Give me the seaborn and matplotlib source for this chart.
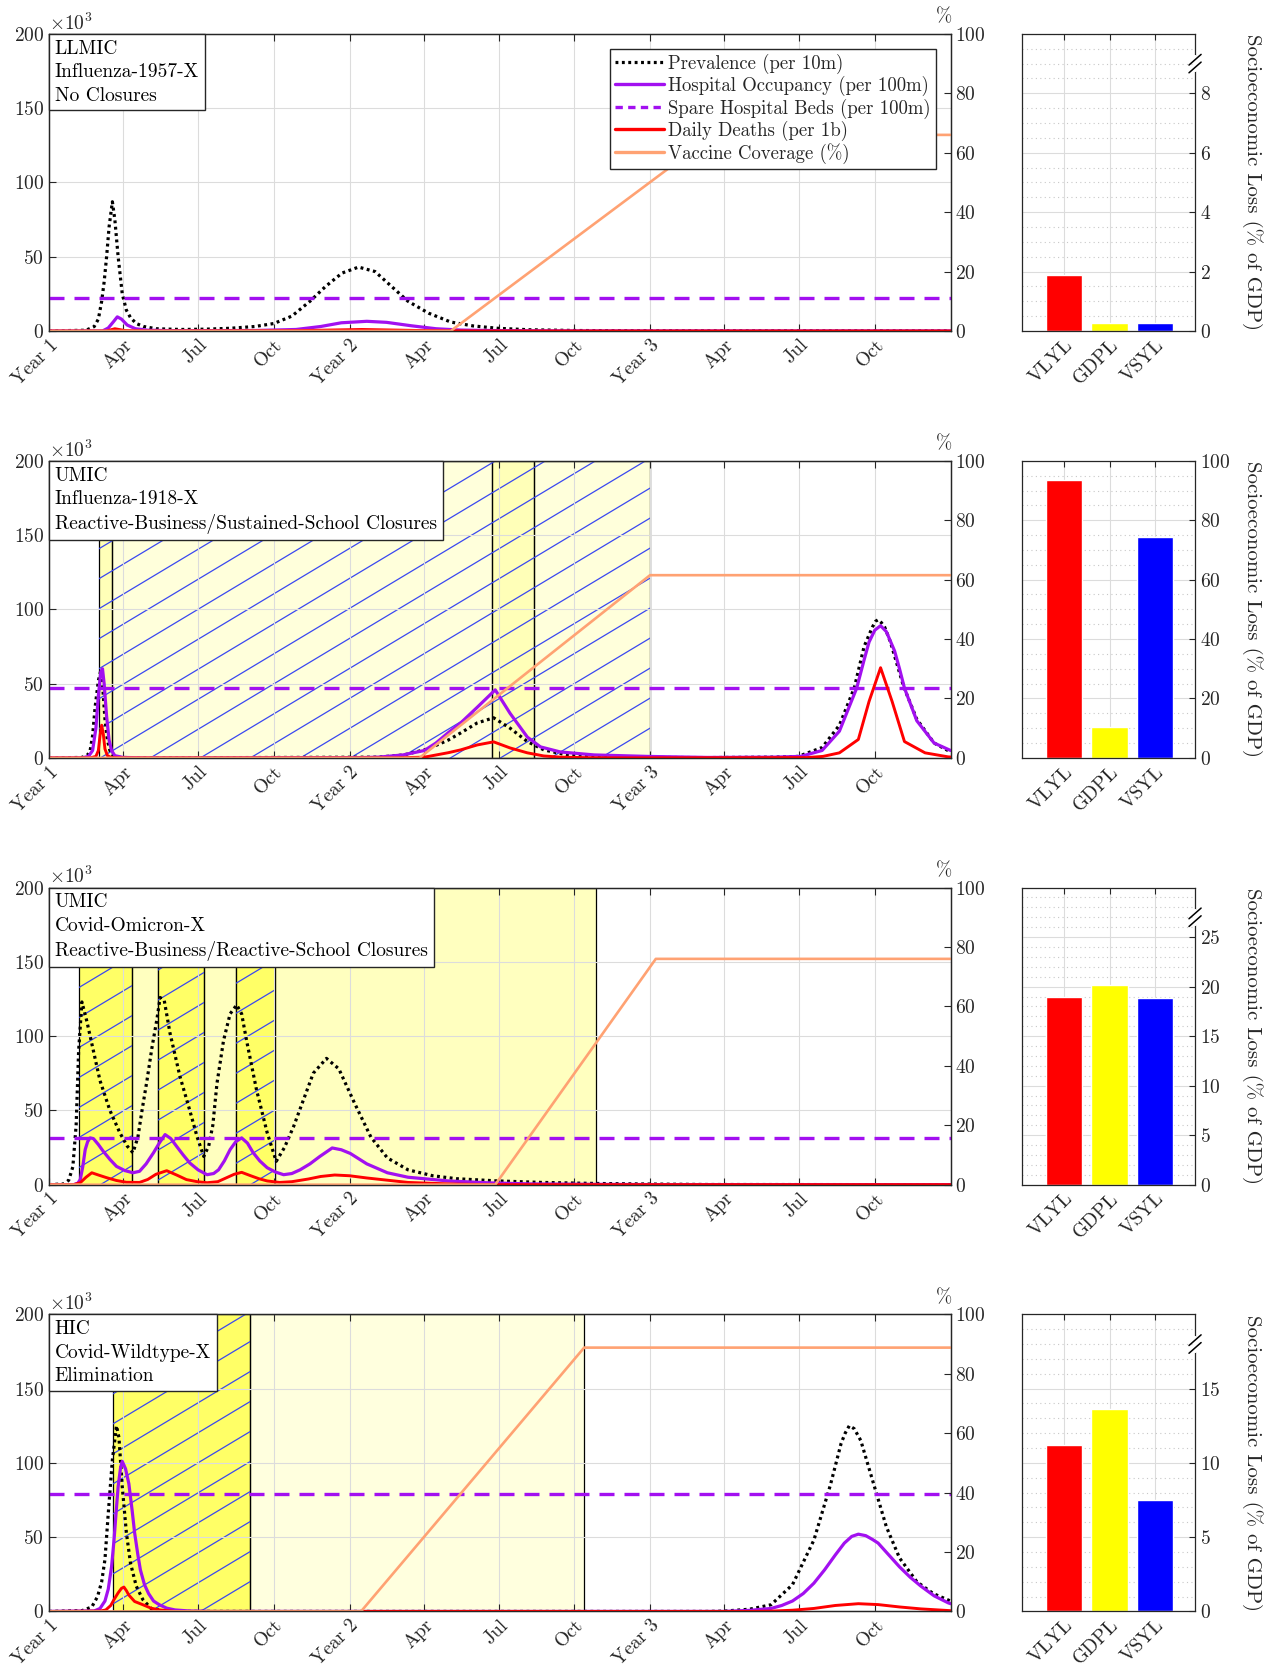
import numpy as np
import matplotlib
matplotlib.use("Agg")
import matplotlib.pyplot as plt
import seaborn as sns
from matplotlib.collections import LineCollection
from matplotlib.offsetbox import AnchoredText
from matplotlib.ticker import ScalarFormatter, MultipleLocator
from matplotlib.lines import Line2D

sns.set_theme(style="ticks")
plt.rcParams["font.family"] = ["cmr10", "DejaVu Serif"]
plt.rcParams["mathtext.fontset"] = "cm"
plt.rcParams["axes.unicode_minus"] = False
plt.rcParams["axes.formatter.use_mathtext"] = True

# ---- time axis (days from start of Year 1) ----
TICK_DAYS = [0, 90, 181, 273, 365, 455, 546, 638, 730, 820, 911, 1003]
TICK_LABELS = ["Year 1", "Apr", "Jul", "Oct", "Year 2", "Apr", "Jul", "Oct",
               "Year 3", "Apr", "Jul", "Oct"]
END_DAY = 1095

LOSS_CATS = ["VLYL", "GDPL", "VSYL"]
LOSS_COLORS = ["#FF0000", "#FFFF00", "#0000FF"]

# ---- panel 1: LLMIC / Influenza-1957-X / No Closures (values x10^3) ----
p1_text = ["LLMIC", "Influenza-1957-X", "No Closures"]
p1_prev_day = [0, 45, 55, 60, 64, 67, 70, 73, 77, 80, 84, 89, 94, 99, 106, 115, 130, 160, 190, 220,
               250, 273, 295, 317, 336, 356, 376, 396, 416, 436, 461, 488, 515, 545, 584, 640, 720, 1095]
p1_prev = [0, 0.5, 3, 8, 20, 33, 50, 70, 87, 75, 50, 25, 14, 9, 5, 3, 1.5, 1, 1.2, 1.8,
           3, 5, 10, 20, 30, 39, 43, 40, 30, 20, 12, 6, 3.4, 1.8, 0.8, 0.3, 0.1, 0]
p1_hosp_day = [0, 65, 72, 78, 83, 88, 95, 105, 120, 150, 250, 300, 330, 355, 386, 410, 440, 470, 500,
               550, 650, 1095]
p1_hosp = [0, 0, 2, 6, 9.5, 8, 4, 1.5, 0.5, 0.2, 0.3, 1, 3, 5.5, 6.5, 5.8, 3.5, 1.5, 0.6, 0.2, 0, 0]
p1_death_day = [0, 70, 80, 92, 120, 300, 380, 450, 520, 1095]
p1_death = [0, 0, 1.5, 0.3, 0, 0.2, 1, 0.3, 0, 0]
p1_vax_day = [0, 488, 807, 1095]
p1_vax = [0, 0, 66, 66]
p1_beds = 22.5
p1_closures = []
p1_loss = [1.9, 0.26, 0.26]

# ---- panel 2: UMIC / Influenza-1918-X ----
p2_text = ["UMIC", "Influenza-1918-X", "Reactive-Business/Sustained-School Closures"]
p2_prev_day = [0, 40, 47, 50, 53, 56, 60, 63, 65, 68, 71, 74, 78, 85, 120, 400, 431, 460, 485, 500,
               520, 540, 560, 581, 601, 629, 660, 720, 800, 880, 910, 939, 960, 978, 990, 1000, 1004,
               1007, 1011, 1015, 1022, 1038, 1054, 1075, 1095]
p2_prev = [0, 0.3, 2, 5, 15, 34, 52, 59, 50, 26, 12, 5, 1.5, 0.3, 0, 0.5, 2, 6, 12, 16.8,
           23.5, 27, 20, 11, 5.4, 2, 0.8, 0.3, 0.2, 0.5, 1, 7, 22, 47, 75, 88, 92,
           93, 91, 88, 78, 48, 26, 10, 4]
p2_hosp_day = [0, 40, 48, 53, 57, 60, 63, 65, 67, 70, 73, 76, 80, 90, 120, 380, 400, 430, 456, 470,
               485, 500, 520, 542, 560, 581, 597, 621, 662, 727, 800, 880, 913, 939, 960, 981, 990,
               996, 1003, 1010, 1017, 1027, 1033, 1039, 1054, 1075, 1095]
p2_hosp = [0, 0, 1, 5, 20, 42, 58, 60, 50, 28, 12, 5, 1.5, 0.3, 0, 0.2, 0.5, 2, 5, 10,
           17, 23.5, 34, 45.8, 30, 14, 7.4, 4, 2, 1, 0.3, 0.5, 1, 5, 18, 47, 66,
           78, 86, 89, 85, 72, 60, 47, 25, 10, 5]
p2_death_day = [0, 50, 57, 60, 62, 64, 66, 68, 71, 76, 90, 420, 456, 485, 500, 520, 540, 560, 581, 601,
                621, 660, 700, 920, 940, 960, 983, 996, 1010, 1024, 1039, 1064, 1092, 1095]
p2_death = [0, 0, 1, 5, 15, 22, 16, 6, 1.5, 0.2, 0, 0, 0.5, 3.5, 5.4, 8.7, 10.8, 6.7, 3.4, 1.3,
            0.5, 0.1, 0, 0.2, 1, 3.4, 12.4, 38, 60.7, 38, 11, 3.4, 0.7, 0.6]
p2_vax_day = [0, 450, 730, 1095]
p2_vax = [0, 0, 61.5, 61.5]
p2_beds = 47.2
# (start day, end day, yellow intensity, school closure hatch)
p2_closures = [(61, 77, 0.28, True), (77, 538, 0.14, True), (538, 589, 0.28, True), (589, 730, 0.14, True)]
p2_loss = [93.5, 10.4, 74.4]

# ---- panel 3: UMIC / Covid-Omicron-X ----
p3_text = ["UMIC", "Covid-Omicron-X", "Reactive-Business/Reactive-School Closures"]
p3_prev_day = [0, 18, 24, 29, 33, 36, 40, 46, 52, 62, 74, 86, 95, 102, 108, 113, 119, 125, 131, 135,
               140, 147, 159, 171, 180, 188, 194, 199, 204, 212, 220, 228, 234, 240, 252, 265, 276, 286,
               297, 309, 321, 337, 352, 371, 391, 411, 436, 466, 495, 545, 599, 664, 730, 800, 1095]
p3_prev = [0, 0.5, 3, 12, 40, 90, 123, 110, 95, 70, 50, 35, 26, 21.5, 32, 50, 70, 92, 111, 126,
           124, 102, 73, 50, 32, 19, 26, 40, 68, 97, 115, 121, 115, 97, 64, 35, 15.7, 25,
           39, 57, 75, 85, 78, 55, 32, 18, 10, 6, 4, 2.5, 1.5, 0.8, 0.4, 0.1, 0]
p3_hosp_day = [0, 30, 35, 38, 41, 44, 47, 50, 54, 60, 66, 74, 82, 92, 102, 110, 118, 127, 134, 141,
               148, 155, 163, 171, 181, 192, 200, 206, 213, 220, 227, 234, 241, 248, 256, 265, 275, 285,
               295, 305, 317, 329, 344, 355, 366, 386, 411, 436, 485, 535, 584, 664, 750, 1095]
p3_hosp = [0, 0, 1, 3.4, 12, 23.6, 29, 31.5, 31, 27, 22.4, 17, 12.3, 9.5, 8, 9, 14, 21.5, 28, 33.7,
           31, 25.8, 20, 14.6, 10, 6.7, 7.5, 10, 16, 23.6, 29, 31.5, 28, 21.5, 16, 11.4, 8.5, 6.7,
           7.5, 10, 14, 19, 24.7, 23.5, 21, 14, 8, 5, 2.5, 1.2, 0.5, 0.2, 0, 0]
p3_death_day = [0, 30, 38, 45, 52, 60, 70, 82, 94, 110, 120, 130, 143, 155, 167, 180, 192, 205, 215, 225,
                234, 245, 255, 265, 280, 295, 315, 330, 347, 365, 386, 411, 436, 485, 535, 1095]
p3_death = [0, 0, 1.3, 5, 8, 6.5, 4.7, 2.8, 1.6, 1.5, 3.5, 7, 9.4, 6.5, 3.4, 2, 1.3, 2, 4.5, 7,
            8.3, 6, 4, 2.5, 1.5, 2, 3.8, 5.5, 6.5, 6, 4.5, 3, 1.5, 0.5, 0, 0]
p3_vax_day = [0, 542, 737, 1095]
p3_vax = [0, 0, 76, 76]
p3_beds = 31.2
p3_closures = [(37, 101, 0.6, True), (101, 133, 0.25, False), (133, 188, 0.6, True),
               (188, 227, 0.25, False), (227, 275, 0.6, True), (275, 664, 0.25, False)]
p3_loss = [18.9, 20.2, 18.85]

# ---- panel 4: HIC / Covid-Wildtype-X / Elimination ----
p4_text = ["HIC", "Covid-Wildtype-X", "Elimination"]
p4_prev_day = [0, 40, 52, 59, 64, 68, 72, 77, 82, 85, 89, 94, 99, 106, 114, 124, 139, 160, 800, 820,
               851, 877, 903, 929, 949, 962, 967, 972, 978, 986, 994, 1002, 1017, 1033, 1054, 1074, 1095]
p4_prev = [0, 0.5, 3, 10, 20, 35, 66, 102, 125, 117, 84, 53, 32.5, 17, 8, 2, 0.5, 0, 0, 0.2,
           1.5, 4.5, 18, 48, 85, 113, 120, 125, 123, 115, 100, 85, 57, 36, 20, 12, 7]
p4_hosp_day = [0, 55, 62, 68, 72, 76, 79, 82, 84, 87, 89, 93, 97, 101, 104, 108, 111, 116, 121, 127,
               134, 143, 153, 170, 200, 820, 851, 877, 890, 903, 916, 929, 942, 955, 966, 975, 983,
               992, 1000, 1007, 1020, 1033, 1046, 1059, 1075, 1092, 1095]
p4_hosp = [0, 0.3, 2, 7, 15, 30, 48, 70, 84, 97, 101, 96, 86, 68, 53, 38, 28, 18, 12, 7,
           4.5, 2.2, 1, 0.3, 0, 0, 0.7, 2, 4, 7, 12, 19, 28, 38, 46, 50.5, 52,
           51, 48.5, 46, 38, 30, 23, 17, 10.5, 5.8, 5.2]
p4_death_day = [0, 62, 69, 75, 79, 84, 88, 91, 94, 97, 104, 114, 124, 134, 153, 850, 877, 903, 929, 955,
                983, 1007, 1033, 1059, 1095]
p4_death = [0, 0.2, 1, 4, 8, 12.5, 15.5, 16.4, 14, 11, 6.7, 4.5, 2.2, 1, 0, 0, 0.2, 0.8, 2, 4,
            5.2, 4.6, 3, 1.7, 0.5]
p4_vax_day = [0, 379, 650, 1095]
p4_vax = [0, 0, 88.8, 88.8]
p4_beds = 78.9
p4_closures = [(78, 244, 0.6, True), (244, 650, 0.13, False)]
p4_loss = [11.2, 13.6, 7.5]

# bar-axis settings per panel: (ymax, last labelled tick, major step, minor step, axis break)
bar_axes = [(10, 8, 2, 0.5, True), (100, 100, 20, 5, False), (30, 25, 5, 1, True), (20, 15, 5, 1, True)]

panels = [
    (p1_text, p1_prev_day, p1_prev, p1_hosp_day, p1_hosp, p1_death_day, p1_death,
     p1_vax_day, p1_vax, p1_beds, p1_closures, p1_loss),
    (p2_text, p2_prev_day, p2_prev, p2_hosp_day, p2_hosp, p2_death_day, p2_death,
     p2_vax_day, p2_vax, p2_beds, p2_closures, p2_loss),
    (p3_text, p3_prev_day, p3_prev, p3_hosp_day, p3_hosp, p3_death_day, p3_death,
     p3_vax_day, p3_vax, p3_beds, p3_closures, p3_loss),
    (p4_text, p4_prev_day, p4_prev, p4_hosp_day, p4_hosp, p4_death_day, p4_death,
     p4_vax_day, p4_vax, p4_beds, p4_closures, p4_loss),
]

PURPLE = "#A210F0"
ORANGE = "#FFA273"
DOTTED = (0, (0.9, 1.1))
GRID = "#dcdcdc"
EDGE = "#262626"
FS = 14

fig = plt.figure(figsize=(12.72, 16.69), dpi=100)
row_bottoms = [0.8017, 0.5459, 0.2902, 0.0345]
row_h = 0.178
ts_box = [0.0385, 0.7088]
bar_box = [0.8034, 0.1361]

# hatch pattern for school closures (lines in axes fraction)
slope = 0.6 * (ts_box[1] * 1272) / (row_h * 1669)
hatch_segs = [[(0, c), (1, c + slope)] for c in np.arange(-slope, 1.0, 0.101)]

for i, (text, pd_, pv, hd, hv, dd, dv, vd, vv, beds, closures, loss) in enumerate(panels):
    ax = fig.add_axes([ts_box[0], row_bottoms[i], ts_box[1], row_h])
    ax2 = ax.twinx()
    axb = fig.add_axes([bar_box[0], row_bottoms[i], bar_box[1], row_h])

    # closures
    for start, end, level, hatched in closures:
        span = ax.axvspan(start, end, facecolor=(1, 1, 0, level), edgecolor="black",
                          lw=0.9, zorder=0.2)
        if hatched:
            lc = LineCollection(hatch_segs, colors="#3a48f0", linewidths=0.9,
                                transform=ax.transAxes, zorder=0.3)
            ax.add_collection(lc, autolim=False)
            lc.set_clip_path(span)

    sns.lineplot(x=pd_, y=np.array(pv) * 1e3, ax=ax, color="black", lw=2.3,
                 linestyle=DOTTED, zorder=3)
    sns.lineplot(x=hd, y=np.array(hv) * 1e3, ax=ax, color=PURPLE, lw=2.3, zorder=3)
    ax.axhline(beds * 1e3, color=PURPLE, lw=2.4, dashes=(4.5, 3), zorder=3)
    sns.lineplot(x=dd, y=np.array(dv) * 1e3, ax=ax, color="#FF0000", lw=2.1, zorder=3)
    sns.lineplot(x=vd, y=vv, ax=ax2, color=ORANGE, lw=1.9)

    ax.set_xlim(0, END_DAY)
    ax.set_ylim(0, 200e3)
    ax.set_yticks(np.arange(0, 200001, 50000))
    fmt = ScalarFormatter(useMathText=True)
    fmt.set_powerlimits((3, 3))
    ax.yaxis.set_major_formatter(fmt)
    ax.yaxis.get_offset_text().set_fontsize(FS)
    ax.set_xticks(TICK_DAYS)
    ax.set_xticklabels(TICK_LABELS, rotation=45, ha="right", rotation_mode="anchor")
    ax.set_axisbelow(True)
    ax.grid(True, color=GRID, lw=0.8)
    ax.tick_params(direction="in", length=5, width=0.8, top=True, right=False,
                   labelsize=FS, colors=EDGE)
    ax.set_xlabel("")
    ax.set_ylabel("")

    ax2.set_ylim(0, 100)
    ax2.set_yticks(np.arange(0, 101, 20))
    ax2.tick_params(direction="in", length=5, width=0.8, labelsize=FS, colors=EDGE)
    ax2.set_ylabel("")
    ax2.text(0.993, 1.025, "%", transform=ax2.transAxes, ha="center", va="bottom",
             fontsize=FS, color=EDGE)
    for a in (ax, ax2):
        for sp in a.spines.values():
            sp.set_color(EDGE)
            sp.set_linewidth(0.9)

    at = AnchoredText("\n".join(text), loc="upper left", frameon=True, pad=0.3, borderpad=0,
                      prop=dict(size=FS, linespacing=1.4, color="black"))
    at.patch.set_boxstyle("square,pad=0")
    at.patch.set_edgecolor(EDGE)
    at.patch.set_linewidth(1.0)
    at.set_zorder(10)
    ax2.add_artist(at)

    if i == 0:
        handles = [
            Line2D([], [], color="black", lw=2.3, linestyle=DOTTED),
            Line2D([], [], color=PURPLE, lw=2.4),
            Line2D([], [], color=PURPLE, lw=2.4, dashes=(2.2, 1.6)),
            Line2D([], [], color="#FF0000", lw=2.4),
            Line2D([], [], color=ORANGE, lw=2.4),
        ]
        labels = ["Prevalence (per 10m)", "Hospital Occupancy (per 100m)",
                  "Spare Hospital Beds (per 100m)", "Daily Deaths (per 1b)", "Vaccine Coverage (%)"]
        leg = ax2.legend(handles, labels, loc="upper right", fontsize=13.5, frameon=True,
                         fancybox=False, edgecolor=EDGE, framealpha=1, handlelength=2.6,
                         handletextpad=0.25, labelspacing=0.12, borderpad=0.25,
                         borderaxespad=0.8)
        leg.get_frame().set_linewidth(1.0)
        leg.set_zorder(11)

    # socioeconomic loss bars
    ymax, ylast, step, minor, brk = bar_axes[i]
    sns.barplot(x=LOSS_CATS, y=loss, hue=LOSS_CATS, palette=LOSS_COLORS, legend=False,
                saturation=1, width=0.8, ax=axb, zorder=2)
    axb.set_xlim(-0.93, 2.88)
    axb.set_ylim(0, ymax)
    axb.yaxis.tick_right()
    axb.yaxis.set_label_position("right")
    axb.set_yticks(np.arange(0, ylast + 1e-9, step))
    axb.yaxis.set_minor_locator(MultipleLocator(minor))
    axb.set_axisbelow(True)
    axb.grid(axis="y", which="major", color=GRID, lw=0.8)
    axb.grid(axis="y", which="minor", color="#c8c8c8", lw=0.8, linestyle=(0, (1, 3)))
    axb.grid(axis="x", which="major", color=GRID, lw=0.8)
    axb.tick_params(axis="y", which="minor", length=0)
    axb.tick_params(direction="in", length=4, width=0.8, top=True, labelsize=FS, colors=EDGE)
    axb.set_xticks(range(len(LOSS_CATS)))
    axb.set_xticklabels(LOSS_CATS, rotation=45, ha="right", rotation_mode="anchor")
    axb.set_xlabel("")
    axb.set_ylabel("Socioeconomic Loss (% of GDP)", rotation=270, ha="center", va="center",
                   fontsize=15, color=EDGE)
    axb.yaxis.set_label_coords(1.33, 0.5)
    for sp in axb.spines.values():
        sp.set_color(EDGE)
        sp.set_linewidth(0.9)
    if brk:
        y0 = 0.9
        axb.plot([1, 1], [y0 - 0.022, y0 + 0.022], transform=axb.transAxes, color="white",
                 lw=3, clip_on=False, zorder=5)
        for dy in (-0.013, 0.013):
            axb.plot([1 - 0.035, 1 + 0.035], [y0 + dy - 0.018, y0 + dy + 0.018],
                     transform=axb.transAxes, color="black", lw=1.1, clip_on=False, zorder=6)

fig.savefig("out.png", dpi=100)
